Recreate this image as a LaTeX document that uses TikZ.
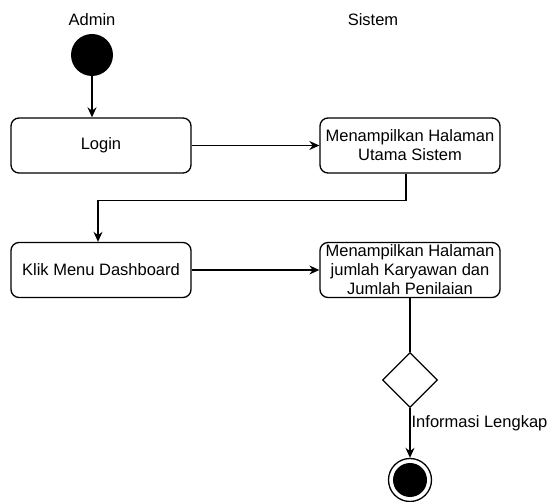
\documentclass[tikz,border=0pt]{standalone}
\usepackage{fontspec}
\setmainfont{Liberation Sans}
\usetikzlibrary{arrows.meta, calc, shapes.geometric, positioning}
\tikzset{
  action/.style={
    rectangle, rounded corners=8pt, minimum width=180pt, minimum height=55pt, draw=black, line width=1.3pt, align=center, inner sep=1pt, font=\fontsize{16.5}{19}\selectfont
  },
  lane/.style={
    inner sep=0pt, font=\fontsize{16.5}{19}\selectfont
  },
  startdot/.style={
    circle, fill=black, minimum size=42pt, inner sep=0pt
  },
  enddot/.style={
    circle, draw=black, line width=1.3pt, minimum size=43pt, inner sep=0pt,
    path picture={\fill[black] (path picture bounding box.center) circle (17pt);}
  },
  decision/.style={
    diamond, draw=black, line width=1.3pt, minimum width=55pt, minimum height=55pt, inner sep=0pt
  },
  flow/.style={-{Stealth[length=10pt,width=9pt]}, line width=1.3pt}
}
\begin{document}
\begin{tikzpicture}[x=1pt,y=-1pt]
        \useasboundingbox (0,0) rectangle (552,502);
        \node[lane] (admin) at (92,20) {Admin};
        \node[lane] (sistem) at (373,20) {Sistem};
        \node[startdot] (start) at (92,55) {};
        \node[action] (login) at (101,145.5) {Login};
        \node[action] (home) at ($(login)+(309,0)$) {Menampilkan Halaman\\Utama Sistem};
        \node[action] (menu) at ($(login)+(0,124.5)$) {Klik Menu Dashboard};
        \node[action] (jumlah) at ($(home)+(0,124.5)$) {Menampilkan Halaman\\jumlah Karyawan dan\\Jumlah Penilaian};
        \node[decision] (cek) at (410,380) {};
        \node[enddot] (finish) at (410,480) {};
        \draw[flow] (start) -- (start |- login.north);
        \draw[flow] (login) -- (home);
        \draw[flow] ([xshift=-4pt]home.south) -- ++(0,27) -| ([xshift=-3pt]menu.north);
        \draw[flow] (menu) -- (jumlah);
        \draw[line width=1.3pt] (jumlah) -- (cek);
        \draw[flow] (cek) -- node[pos=0.3, right=1pt, lane] {Informasi Lengkap} (finish);
    \end{tikzpicture}
\end{document}
